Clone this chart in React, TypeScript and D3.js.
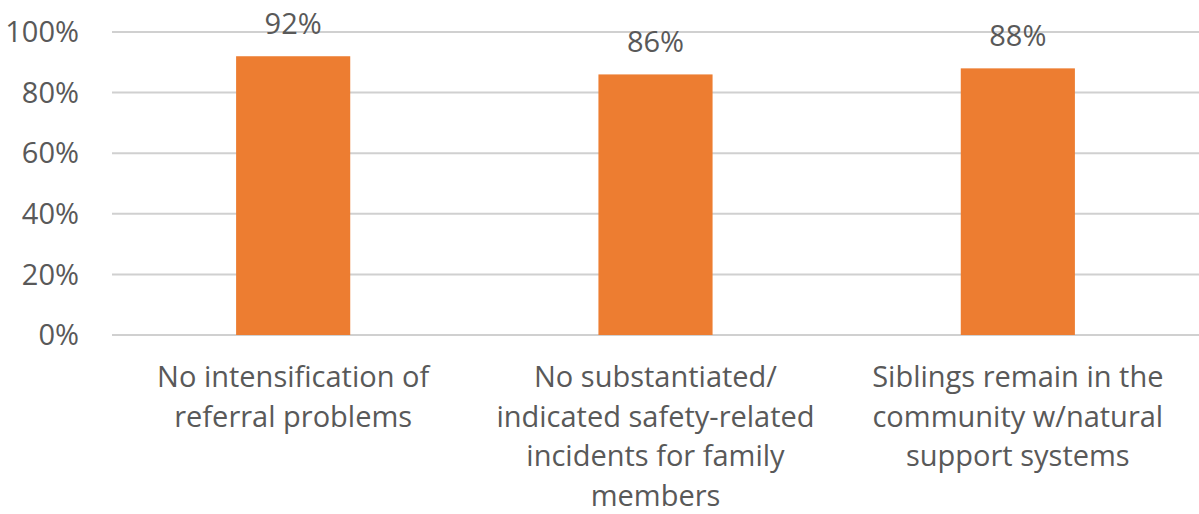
import React from "react";
import * as d3 from "d3";

const categories: string[][] = [
  ["No intensification of", "referral problems"],
  ["No substantiated/", "indicated safety-related", "incidents for family", "members"],
  ["Siblings remain in the", "community w/natural", "support systems"],
];
const values: number[] = [0.92, 0.86, 0.88];
const yTicks: number[] = [0, 0.2, 0.4, 0.6, 0.8, 1.0];

const W = 1199;
const H = 514;
const FONT = "'Open Sans', Lato, sans-serif";
const TEXT = "#595959";
const FS = 29;

export default function App() {
  const left = 112;
  const right = 1199;
  const top = 32;
  const bottom = 335;
  const x = d3
    .scaleBand<number>()
    .domain(values.map((_, i) => i))
    .range([left, right])
    .paddingInner(0.685)
    .paddingOuter(0.3425);
  const y = d3.scaleLinear().domain([0, 1]).range([bottom, top]);
  const fmt = d3.format(".0%");

  return (
    <svg
      width={W}
      height={H}
      style={{ position: "absolute", left: 0, top: 0, background: "#fff" }}
      fontFamily={FONT}
    >
      {yTicks.map((t) => (
        <g key={t}>
          <line x1={left} x2={right} y1={y(t)} y2={y(t)} stroke="#d0d0d0" strokeWidth={2} />
          <text
            x={79}
            y={y(t)}
            dy="0.35em"
            textAnchor="end"
            fontSize={FS}
            fill={TEXT}
          >
            {fmt(t)}
          </text>
        </g>
      ))}
      {values.map((v, i) => (
        <g key={i}>
          <rect
            x={x(i)}
            y={y(v)}
            width={x.bandwidth()}
            height={y(0) - y(v)}
            fill="#ED7D31"
          />
          <text
            x={(x(i) as number) + x.bandwidth() / 2}
            y={y(v) - 22}
            textAnchor="middle"
            fontSize={FS}
            fill={TEXT}
          >
            {fmt(v)}
          </text>
          <text
            x={(x(i) as number) + x.bandwidth() / 2}
            y={387}
            textAnchor="middle"
            fontSize={FS}
            fill={TEXT}
          >
            {categories[i].map((line, j) => (
              <tspan key={j} x={(x(i) as number) + x.bandwidth() / 2} y={387 + j * 39.7}>
                {line}
              </tspan>
            ))}
          </text>
        </g>
      ))}
    </svg>
  );
}
